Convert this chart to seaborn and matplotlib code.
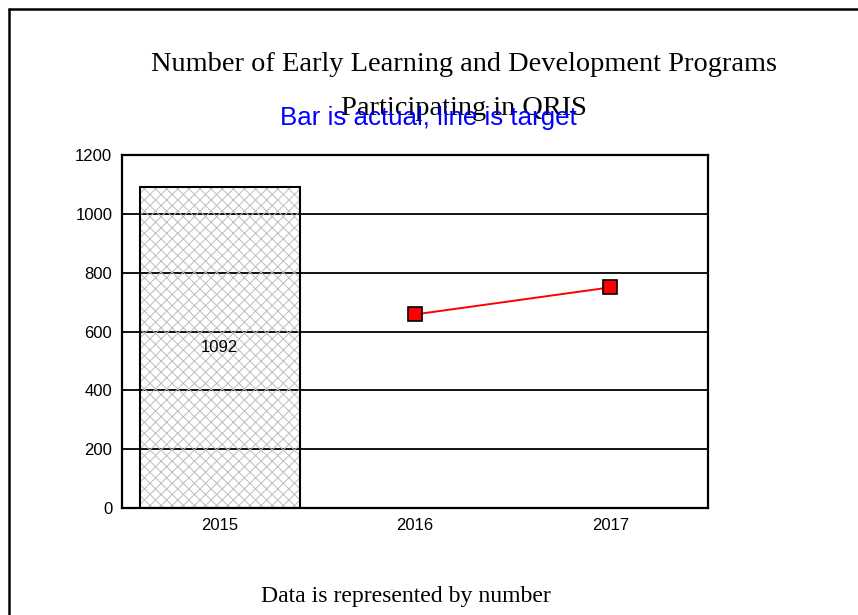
import matplotlib
matplotlib.use("Agg")
import matplotlib.pyplot as plt
import seaborn as sns
import pandas as pd
from matplotlib.lines import Line2D

years = ["2015", "2016", "2017"]
actual_years = ["2015"]
actual_values = [1092]
target_years = ["2016", "2017"]
target_values = [658, 750]
yticks = [0, 200, 400, 600, 800, 1000, 1200]

title_line1 = "Number of Early Learning and Development Programs"
title_line2 = "Participating in QRIS"
subtitle = "Bar is actual, line is target"
footer = "Data is represented by number"

sns.set_theme(style="white")
plt.rcParams["font.family"] = ["Liberation Sans", "DejaVu Sans"]
plt.rcParams["hatch.linewidth"] = 0.7

fig = plt.figure(figsize=(8.58, 6.15), dpi=100)
ax = fig.add_axes([122 / 858, 1 - 508 / 615, 586 / 858, 353 / 615])

actual_df = pd.DataFrame({"year": actual_years, "value": actual_values})
target_df = pd.DataFrame({"year": target_years, "value": target_values})

# gridlines (behind the transparent hatched bar)
ax.set_axisbelow(True)
ax.yaxis.grid(True, color="black", linewidth=1.3)
ax.xaxis.grid(False)

# hatched fill
sns.barplot(data=actual_df, x="year", y="value", order=years, ax=ax,
            width=0.82, facecolor="none", edgecolor="#bdbdbd", linewidth=0,
            hatch="xxx", zorder=2)
# black outline
sns.barplot(data=actual_df, x="year", y="value", order=years, ax=ax,
            width=0.82, facecolor="none", edgecolor="black", linewidth=1.5,
            zorder=3)

# value label
for val, yr in zip(actual_values, actual_years):
    ax.text(years.index(yr), val / 2, str(val), ha="center", va="center",
            fontsize=12, color="black", zorder=5)

sns.pointplot(data=target_df, x="year", y="value", order=years, ax=ax,
              color="red", markers="s", linestyles="-", errorbar=None,
              markersize=9.5, markeredgecolor="black", markeredgewidth=1.2,
              linewidth=1.4, zorder=4)

ax.set_ylim(0, 1200)
ax.set_xlim(-0.5, 2.5)
ax.set_yticks(yticks)
ax.set_yticklabels([str(t) for t in yticks], fontsize=12)
ax.set_xticks(range(len(years)))
ax.set_xticklabels(years, fontsize=12)
ax.set_xlabel("")
ax.set_ylabel("")
ax.tick_params(axis="both", length=0, pad=7, colors="black")
for s in ax.spines.values():
    s.set_visible(True)
    s.set_color("black")
    s.set_linewidth(1.6)

# texts
serif = ["Liberation Serif", "DejaVu Serif"]
fig.text(464 / 858, 1 - 71 / 615, title_line1, ha="center", va="baseline",
         fontsize=20.4, family=serif, color="black")
fig.text(464 / 858, 1 - 115 / 615, title_line2, ha="center", va="baseline",
         fontsize=20.4, family=serif, color="black")
fig.text(428 / 858, 1 - 125 / 615, subtitle, ha="center", va="baseline",
         fontsize=18.6, color="#0000ff")
fig.text(406 / 858, 1 - 602 / 615, footer, ha="center", va="baseline",
         fontsize=17.1, family=serif, color="black")

# outer frame (left and top edges)
fig.add_artist(Line2D([8.5 / 858, 8.5 / 858], [0, 1 - 8.5 / 615], color="black",
                      linewidth=1.8, transform=fig.transFigure))
fig.add_artist(Line2D([8.5 / 858, 1], [1 - 8.5 / 615, 1 - 8.5 / 615], color="black",
                      linewidth=1.8, transform=fig.transFigure))

fig.savefig("out.png", dpi=100)
